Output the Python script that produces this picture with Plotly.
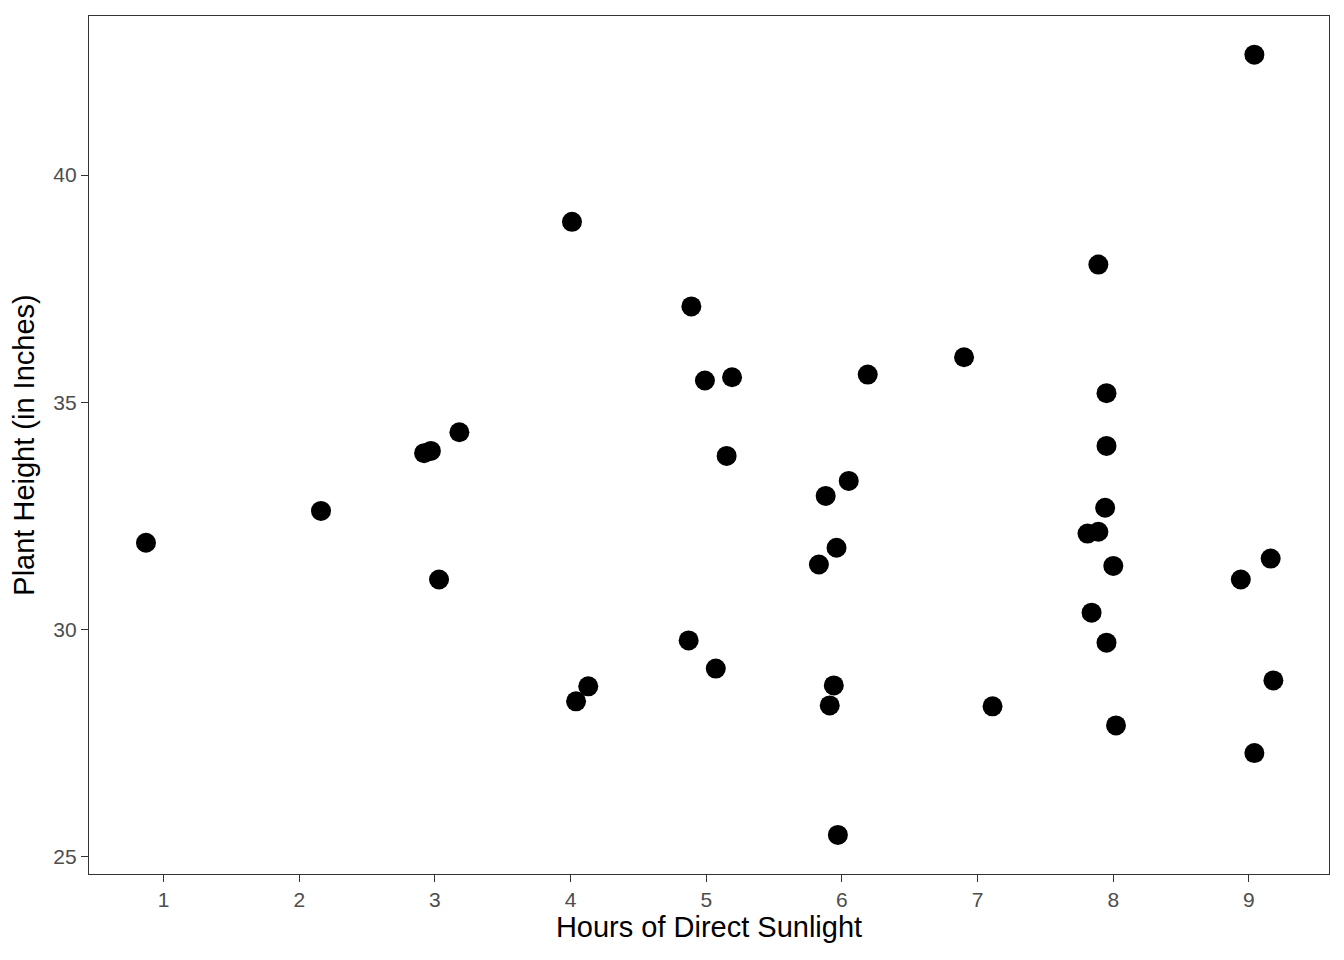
import plotly.graph_objects as go

# hours of sunlight / plant height
sunlight = [0.87, 2.16, 2.92, 2.97, 3.18, 3.03, 4.01, 4.04, 4.13, 4.89,
            4.99, 5.19, 5.15, 4.87, 5.07, 5.88, 6.05, 5.96, 5.83, 6.19,
            5.94, 5.91, 5.97, 6.90, 7.11, 7.89, 7.95, 7.95, 7.94, 7.81,
            7.89, 8.00, 7.84, 7.95, 8.02, 9.04, 8.94, 9.16, 9.18, 9.04]
height = [31.91, 32.61, 33.88, 33.93, 34.34, 31.10, 38.97, 28.42, 28.75, 37.11,
          35.48, 35.55, 33.82, 29.76, 29.14, 32.94, 33.27, 31.80, 31.43, 35.61,
          28.77, 28.33, 25.48, 35.99, 28.31, 38.03, 35.20, 34.04, 32.68, 32.11,
          32.15, 31.40, 30.37, 29.71, 27.89, 42.65, 31.10, 31.56, 28.88, 27.28]

x_ticks = [1, 2, 3, 4, 5, 6, 7, 8, 9]
y_ticks = [25, 30, 35, 40]

punkte = go.Scatter(x=sunlight, y=height, mode="markers",
                    marker=dict(color="black", size=20, line=dict(width=0)),
                    showlegend=False)

eksen = dict(showgrid=False, zeroline=False, showline=True, mirror=True,
             linecolor="#333333", linewidth=1.2,
             ticks="outside", ticklen=7, tickcolor="#333333", tickwidth=1.2,
             tickfont=dict(size=21, color="#4D4D4D"))

# page body has an 8px margin, so the figure is a bit smaller than the window
yerlesim = go.Layout(
    width=1328, height=944,
    font=dict(family="Liberation Sans, Arial, sans-serif", color="black"),
    plot_bgcolor="white", paper_bgcolor="white",
    margin=dict(l=81, r=7, t=8, b=78),
    xaxis=dict(eksen, range=[0.45, 9.59], tickvals=x_ticks,
               title=dict(text="Hours of Direct Sunlight", font=dict(size=29), standoff=6)),
    yaxis=dict(eksen, range=[24.62, 43.5], tickvals=y_ticks,
               title=dict(text="Plant Height (in Inches)", font=dict(size=29), standoff=10)),
)

fig = go.Figure(data=[punkte], layout=yerlesim)
fig.write_html("out.html")
